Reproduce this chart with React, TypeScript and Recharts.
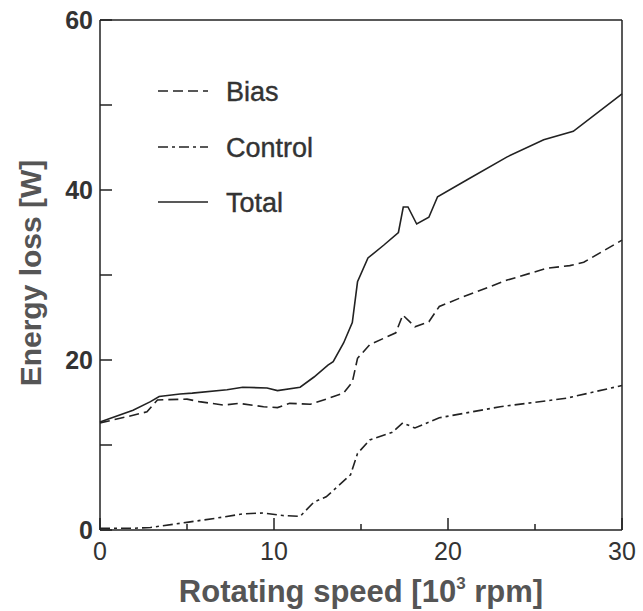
import { Label, Legend, Line, LineChart, XAxis, YAxis } from "recharts";

const FONT = '"Liberation Sans", Arial, sans-serif';
const INK = "#222";

const totalSpeed = [0, 1.9, 2.9, 3.4, 4.6, 5.3, 7.3, 8.2, 9.6, 10.2, 11.5, 12.3, 13.1, 13.4, 14.0, 14.5, 14.8, 15.4, 16.3, 17.15, 17.43, 17.7, 18.2, 18.9, 19.4, 21.1, 23.4, 25.5, 27.2, 30];
const totalLoss = [12.7, 14.1, 15.1, 15.7, 16.0, 16.1, 16.5, 16.8, 16.7, 16.4, 16.8, 18.0, 19.4, 19.8, 22.0, 24.4, 29.2, 32.0, 33.5, 35.0, 38.0, 38.0, 36.0, 36.8, 39.2, 41.2, 43.9, 45.9, 46.9, 51.3];

const biasSpeed = [0, 1.5, 2.7, 3.3, 5.0, 5.7, 7.1, 8.0, 9.4, 10.2, 10.9, 12.1, 13.0, 14.0, 14.5, 14.8, 15.5, 17.0, 17.4, 18.1, 18.9, 19.5, 20.7, 23.4, 25.7, 27.0, 27.8, 30];
const biasLoss = [12.6, 13.3, 13.9, 15.3, 15.4, 15.1, 14.7, 14.9, 14.5, 14.4, 14.9, 14.8, 15.4, 16.1, 17.4, 20.2, 21.8, 23.2, 25.3, 23.9, 24.5, 26.3, 27.3, 29.4, 30.8, 31.1, 31.5, 34.1];

const controlSpeed = [0, 1.9, 2.9, 5.0, 6.7, 8.2, 9.4, 10.5, 11.5, 12.3, 13.0, 14.4, 14.8, 15.5, 16.8, 17.4, 18.1, 19.5, 23.0, 26.8, 30];
const controlLoss = [0.2, 0.2, 0.3, 0.9, 1.4, 1.9, 2.0, 1.7, 1.6, 3.3, 3.9, 6.5, 9.0, 10.6, 11.5, 12.6, 12.0, 13.2, 14.5, 15.5, 17.0];

const xTicks = [0, 5, 10, 15, 20, 25, 30];
const yTicks = [0, 10, 20, 30, 40, 50, 60];

const toPoints = (xs: number[], ys: number[]) => xs.map((speed, i) => ({ speed, loss: ys[i] }));

const series = [
  { name: "Bias", data: toPoints(biasSpeed, biasLoss), dash: "10 5" },
  { name: "Control", data: toPoints(controlSpeed, controlLoss), dash: "10 4 3 4" },
  { name: "Total", data: toPoints(totalSpeed, totalLoss), dash: undefined },
];

const BottomTick = ({ x, y, payload }: any) => {
  const major = payload.value % 10 === 0;
  return (
    <g>
      <line x1={x} x2={x} y1={y} y2={y - (major ? 12 : 6)} stroke={INK} strokeWidth={1.5} />
      {major && (
        <text x={x} y={y + 30} textAnchor="middle" fontSize={25} fontFamily={FONT} fill="#333">
          {payload.value}
        </text>
      )}
    </g>
  );
};

const TopTick = ({ x, y, payload }: any) => {
  const major = payload.value % 10 === 0;
  return <line x1={x} x2={x} y1={y} y2={y + (major ? 11 : 6)} stroke={INK} strokeWidth={1.5} />;
};

const LeftTick = ({ x, y, payload }: any) => (
  <g>
    <line x1={x} x2={x + 12} y1={y} y2={y} stroke={INK} strokeWidth={1.5} />
    {payload.value % 20 === 0 && (
      <text x={x - 7} y={y + 9} textAnchor="end" fontSize={25} fontWeight="bold" fontFamily={FONT} fill="#333">
        {payload.value}
      </text>
    )}
  </g>
);

const RightTick = ({ x, y, payload }: any) =>
  payload.value > 0 && payload.value < 60 ? (
    <line x1={x} x2={x - 12} y1={y} y2={y} stroke={INK} strokeWidth={1.5} />
  ) : (
    <g />
  );

const LegendBox = () => (
  <svg width={200} height={160} style={{ display: "block" }}>
    {series.map((s, i) => {
      const ly = [21, 77, 132][i];
      return (
        <g key={s.name}>
          <line x1={8} x2={58} y1={ly} y2={ly} stroke={INK} strokeWidth={1.5} strokeDasharray={s.dash} />
          <text x={76} y={ly + 10} fontSize={27} fontFamily={FONT} fill="#333" stroke="#333" strokeWidth={0.4}>
            {s.name}
          </text>
        </g>
      );
    })}
  </svg>
);

const axisLine = { stroke: INK, strokeWidth: 1.5 };

export default function App() {
  return (
    <div style={{ position: "absolute", left: 0, top: 0, background: "#fff" }}>
      <LineChart width={643} height={611} margin={{ top: 19, right: 20, bottom: 0, left: 0 }}>
        <XAxis
          xAxisId="bottom"
          dataKey="speed"
          type="number"
          domain={[0, 30]}
          ticks={xTicks}
          interval={0}
          height={81}
          tickLine={false}
          tickSize={0}
          tickMargin={0}
          axisLine={axisLine}
          tick={<BottomTick />}
        >
          <Label
            content={({ viewBox }: any) => (
              <text
                x={viewBox.x + viewBox.width / 2}
                y={viewBox.y + 72}
                textAnchor="middle"
                fontSize={31}
                fontWeight="bold"
                fontFamily={FONT}
                fill="#555"
              >
                Rotating speed [10
                <tspan dy={-13} fontSize={17}>3</tspan>
                <tspan dy={13}> rpm]</tspan>
              </text>
            )}
          />
        </XAxis>
        <XAxis
          xAxisId="top"
          orientation="top"
          dataKey="speed"
          type="number"
          domain={[0, 30]}
          ticks={xTicks}
          interval={0}
          height={1}
          tickLine={false}
          tickSize={0}
          tickMargin={0}
          axisLine={axisLine}
          tick={<TopTick />}
        />
        <YAxis
          yAxisId="left"
          type="number"
          domain={[0, 60]}
          ticks={yTicks}
          interval={0}
          width={100}
          tickLine={false}
          tickSize={0}
          tickMargin={0}
          axisLine={axisLine}
          tick={<LeftTick />}
        >
          <Label
            content={({ viewBox }: any) => (
              <text
                x={30}
                y={viewBox.y + viewBox.height / 2 - 2}
                transform={`rotate(-90 30 ${viewBox.y + viewBox.height / 2 - 2})`}
                textAnchor="middle"
                dominantBaseline="central"
                fontSize={30}
                fontWeight="bold"
                fontFamily={FONT}
                fill="#555"
              >
                Energy loss [W]
              </text>
            )}
          />
        </YAxis>
        <YAxis
          yAxisId="right"
          orientation="right"
          type="number"
          domain={[0, 60]}
          ticks={yTicks}
          interval={0}
          width={1}
          tickLine={false}
          tickSize={0}
          tickMargin={0}
          axisLine={axisLine}
          tick={<RightTick />}
        />
        <Legend
          layout="vertical"
          align="center"
          verticalAlign="middle"
          content={<LegendBox />}
          wrapperStyle={{ position: "absolute", left: 150, top: 70, width: 200, height: 160 }}
        />
        {series.map((s) => (
          <Line
            key={s.name}
            name={s.name}
            xAxisId="bottom"
            yAxisId="left"
            data={s.data}
            dataKey="loss"
            type="linear"
            stroke={INK}
            strokeWidth={1.6}
            strokeDasharray={s.dash}
            dot={false}
            isAnimationActive={false}
          />
        ))}
      </LineChart>
    </div>
  );
}
